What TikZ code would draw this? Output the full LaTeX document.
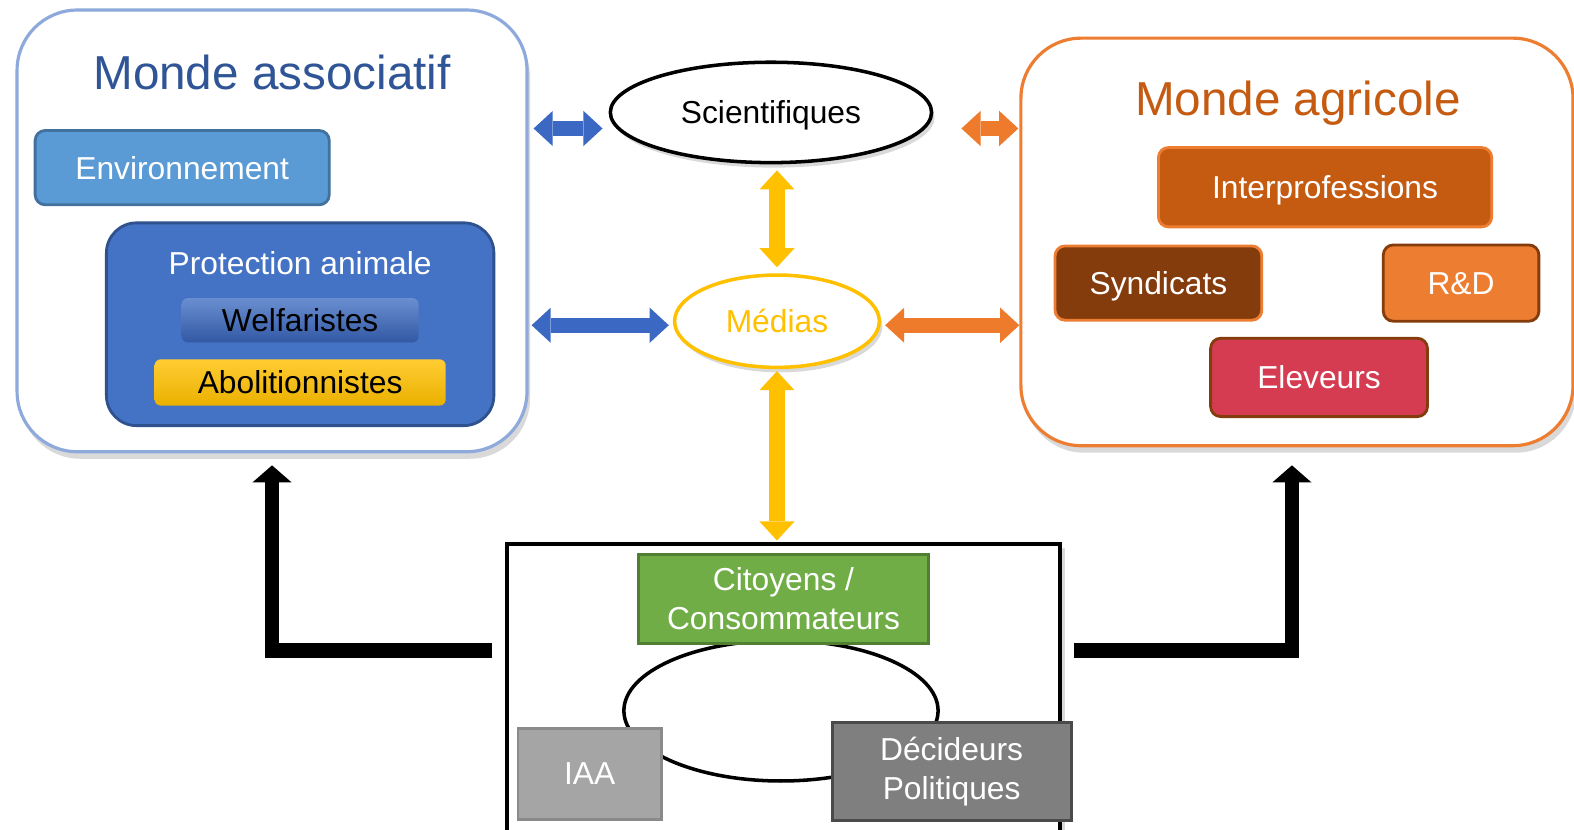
\documentclass[tikz,border=0pt]{standalone}
\usepackage{fontspec}
\setmainfont{Liberation Sans}
\usetikzlibrary{arrows.meta,shapes.geometric,shadows,positioning}

\definecolor{assocbleu}{HTML}{2F5597}
\definecolor{cadrebleu}{HTML}{8EA9DB}
\definecolor{envbleu}{HTML}{5B9BD5}
\definecolor{envbord}{HTML}{41719C}
\definecolor{protbleu}{HTML}{4472C4}
\definecolor{protbord}{HTML}{2F528F}
\definecolor{bleufl}{HTML}{3B68C2}
\definecolor{agriorange}{HTML}{C55A11}
\definecolor{cadreorange}{HTML}{ED7D31}
\definecolor{orangefl}{HTML}{EE7A2C}
\definecolor{brun}{HTML}{843C0C}
\definecolor{rouge}{HTML}{D53C52}
\definecolor{jaune}{HTML}{FFC000}
\definecolor{vert}{HTML}{70AD47}
\definecolor{vertbord}{HTML}{507E32}
\definecolor{grisclair}{HTML}{A5A5A5}
\definecolor{grisbord}{HTML}{8A8A8A}
\definecolor{grisfonce}{HTML}{7F7F7F}
\definecolor{grisnoir}{HTML}{4A4A4A}

\newcommand{\lbl}{\fontsize{9}{10.9}\selectfont}
\newcommand{\titre}{\fontsize{13.5}{16}\selectfont}

\begin{document}
\begin{tikzpicture}[
  monde/.style={draw, line width=0.9pt, fill=white, rounded corners=0.6cm, inner sep=0pt,
    drop shadow={shadow xshift=0.03cm, shadow yshift=-0.07cm, opacity=0.3}},
  boite/.style={draw, line width=0.8pt, rounded corners=0.1cm, inner sep=0pt,
    text=white, font=\lbl, text depth=0pt},
  carre/.style={draw, line width=0.8pt, inner sep=0pt, text=white, font=\lbl, align=center},
  bulle/.style={ellipse, draw, line width=1pt, fill=white, inner sep=0pt, font=\lbl, text depth=0pt,
    drop shadow={shadow xshift=0.03cm, shadow yshift=-0.05cm, opacity=0.3}},
  fleche/.style={line width=0.15cm,
    {Triangle[width=0.35cm,length=0.19cm,line width=0pt]}-{Triangle[width=0.35cm,length=0.19cm,line width=0pt]}},
  retour/.style={line width=0.14cm, line join=miter,
    -{Triangle[width=0.39cm,length=0.17cm,line width=0pt]}}]

\useasboundingbox (0,0) rectangle (15.68,-8.26);
\clip (0,0) rectangle (15.68,-8.26);

\node[monde, draw=cadrebleu, minimum width=5.08cm, minimum height=4.40cm] (assoc) at (2.71,-2.30) {};
\node[font=\titre, text=assocbleu, text depth=0pt] (assoctitre) at (2.71,-0.72) {Monde associatif};
\node[boite, fill=envbleu, draw=envbord, minimum width=2.93cm, minimum height=0.74cm] (env) at (1.815,-1.67) {Environnement};
\node[boite, rounded corners=0.3cm, fill=protbleu, draw=protbord, minimum width=3.86cm, minimum height=2.02cm] (prot) at (2.99,-3.23) {};
\node[font=\lbl, text=white, text depth=0pt] (prottitre) at (2.99,-2.62) {Protection animale};
\node[boite, draw=none, rounded corners=0.06cm, top color=protbleu!80!white, bottom color=bleufl!85!black,
  text=black, minimum width=2.36cm, minimum height=0.44cm] (welf) at (2.99,-3.19) {Welfaristes};
\node[boite, draw=none, rounded corners=0.06cm, top color=jaune!80!white, bottom color=jaune!92!black,
  text=black, minimum width=2.90cm, minimum height=0.46cm] (abol) at (2.99,-3.81) {Abolitionnistes};

\node[bulle, minimum width=3.20cm, minimum height=1.00cm] (sci) at (7.68,-1.12) {Scientifiques};
\node[bulle, draw=jaune, text=jaune, minimum width=2.04cm, minimum height=0.92cm] (medias) at (7.74,-3.20) {Médias};

\node[monde, draw=cadreorange, minimum width=5.50cm, minimum height=4.06cm] (agri) at (12.92,-2.41) {};
\node[font=\titre, text=agriorange, text depth=0pt] (agrititre) at (12.93,-0.98) {Monde agricole};
\node[boite, fill=agriorange, draw=cadreorange, minimum width=3.32cm, minimum height=0.79cm] (inter) at (13.20,-1.865) {Interprofessions};
\node[boite, fill=brun, draw=cadreorange, minimum width=2.06cm, minimum height=0.74cm] (synd) at (11.54,-2.82) {Syndicats};
\node[boite, fill=cadreorange, draw=brun, minimum width=1.55cm, minimum height=0.76cm] (rd) at (14.555,-2.82) {R\&D};
\node[boite, fill=rouge, draw=brun, minimum width=2.16cm, minimum height=0.78cm] (elev) at (13.14,-3.76) {Eleveurs};

\node[draw, line width=0.9pt, fill=white, inner sep=0pt, minimum width=5.51cm, minimum height=2.98cm,
  drop shadow={shadow xshift=0.05cm, shadow yshift=-0.04cm, opacity=0.3}] (bas) at (7.805,-6.91) {};
\node[ellipse, draw, line width=1pt, minimum width=3.13cm, minimum height=1.40cm] (ronde) at (7.78,-7.08) {};
\node[carre, fill=vert, draw=vertbord, minimum width=2.89cm, minimum height=0.89cm] (citoyens) at (7.805,-5.965) {Citoyens /\\Consommateurs};
\node[carre, fill=grisclair, draw=grisbord, minimum width=1.43cm, minimum height=0.90cm] (iaa) at (5.875,-7.71) {IAA};
\node[carre, fill=grisfonce, draw=grisnoir, minimum width=2.38cm, minimum height=0.97cm] (decideurs) at (9.48,-7.685) {Décideurs\\Politiques};

\coordinate (haut) at (0,-1.28);
\coordinate (milieu) at (0,-3.24);
\coordinate (niveau) at (0,-6.48);

\draw[fleche, bleufl, shorten <=0.05cm, shorten >=0.06cm] (assoc.east |- haut) -- (sci.west |- haut);
\draw[fleche, orangefl, shorten <=0.28cm, shorten >=0.01cm] (sci.east |- haut) -- (agri.west |- haut);
\draw[fleche, jaune, shorten <=0.06cm, shorten >=0.06cm] (medias.north |- sci.south) -- (medias.north);
\draw[fleche, bleufl, shorten <=0.03cm, shorten >=0.04cm] (assoc.east |- milieu) -- (medias.west |- milieu);
\draw[fleche, orangefl, shorten <=0.04cm] (medias.east |- milieu) -- (agri.west |- milieu);
\draw[fleche, jaune, shorten <=0.02cm, shorten >=0.02cm] (medias.south) -- (medias.south |- bas.north);
\draw[retour, shorten <=0.13cm, shorten >=0.12cm] (bas.west |- niveau) -| (assoc.south);
\draw[retour, shorten <=0.12cm, shorten >=0.18cm] (bas.east |- niveau) -| ([xshift=-0.05cm]agri.south);
\end{tikzpicture}
\end{document}
